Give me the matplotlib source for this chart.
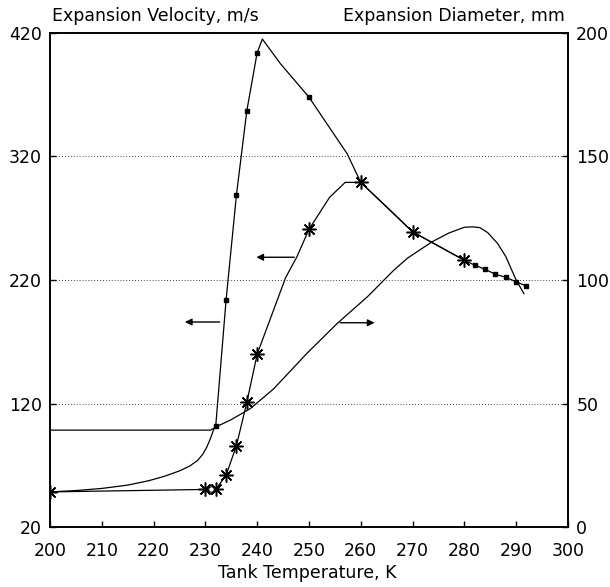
import matplotlib
matplotlib.use("Agg")
import matplotlib.pyplot as plt

plt.rcParams['font.family'] = ['DejaVu Sans']

# ---- data ----
# Velocity curve 1 (dots), left axis, m/s
vel1_line_T = [200, 205, 210, 215, 219, 222, 225, 227, 228.5, 229.5, 230.3, 231, 231.6, 232,
               234, 236, 238, 240, 241, 244.5, 250, 257.4, 260, 265.8, 270, 280,
               282, 284, 286, 288, 290, 292]
vel1_line_V = [48.5, 49.6, 51.3, 54, 57.5, 61, 65.5, 69.5, 74, 79, 85, 92, 99, 102,
               204, 289, 357, 404, 415, 395, 368, 322, 299, 276, 259, 236,
               232, 228.7, 224.6, 222.2, 218.6, 215]
vel1_pts_T = [232, 234, 236, 238, 240, 250, 282, 284, 286, 288, 290, 292]
vel1_pts_V = [102, 204, 289, 357, 404, 368, 232, 228.7, 224.6, 222.2, 218.6, 215]

# Velocity curve 2 (asterisks), left axis, m/s
vel2_line_T = [200, 230, 231, 232, 234, 236, 238, 240, 245.5, 247.7, 250, 254, 257, 260, 270, 280]
vel2_line_V = [48.5, 50.5, 50.5, 50.5, 62, 86, 121, 160, 222, 239, 261, 287, 299, 299, 259, 236]
vel2_pts_T = [200, 230, 232, 234, 236, 238, 240, 250, 260, 270, 280]
vel2_pts_V = [48.5, 50.5, 50.5, 62, 86, 121, 160, 261, 299, 259, 236]

# Expansion diameter (no markers), right axis, mm
diam_T = [200, 231, 232, 235, 238.7, 243.2, 249.6, 255.5, 261.3, 264.5, 266.4, 269,
          273.8, 277, 280, 281.6, 283, 284.5, 286.4, 288, 290, 291.5]
diam_D = [39.25, 39.25, 40.5, 43.5, 48, 56, 70.3, 82.5, 93.25, 100, 104, 108.8,
          115.5, 119, 121.35, 121.5, 121.2, 119.2, 114.85, 109.5, 100, 94.5]

x_ticks = list(range(200, 301, 10))
left_ticks = [20, 120, 220, 320, 420]
right_ticks = [0, 50, 100, 150, 200]

fig = plt.figure(figsize=(6.10, 5.87), dpi=100)
ax = fig.add_axes([0.082, 0.102, 0.849, 0.842])
ax2 = ax.twinx()

lw = 0.9
ax.plot(vel1_line_T, vel1_line_V, color='black', lw=lw)
ax.plot(vel1_pts_T, vel1_pts_V, ls='none', marker='s', ms=3.2, color='black')
ax.plot(vel2_line_T, vel2_line_V, color='black', lw=lw)
ax.plot(vel2_pts_T, vel2_pts_V, ls='none', marker=(8, 2, 0), ms=10, mew=1.1, color='black')
ax.plot([231], [50.5], ls='none', marker='o', ms=4, mfc='white', mec='black', mew=0.8)
ax2.plot(diam_T, diam_D, color='black', lw=lw)

# pointer arrows
arrow_kw = dict(arrowstyle='-|>', color='black', lw=1.0, mutation_scale=10)
ax.annotate('', xy=(225.5, 186), xytext=(233.3, 186), arrowprops=arrow_kw)
ax.annotate('', xy=(239.3, 238.4), xytext=(247.7, 238.4), arrowprops=arrow_kw)
ax.annotate('', xy=(263.2, 185.4), xytext=(255.5, 185.4), arrowprops=arrow_kw)

ax.set_xlim(200, 300)
ax.set_ylim(20, 420)
ax2.set_ylim(0, 200)
ax.set_xticks(x_ticks)
ax.set_yticks(left_ticks)
ax2.set_yticks(right_ticks)

for g in [120, 220, 320]:
    ax.axhline(g, color='black', lw=0.6, ls=(0, (1, 2.5)))

fs = 12.5
ax.tick_params(axis='both', direction='in', length=4, width=1, labelsize=fs, pad=6)
ax2.tick_params(axis='y', direction='in', length=4, width=1, labelsize=fs, pad=6)
ax.tick_params(axis='x', pad=11)
for a in (ax, ax2):
    for s in a.spines.values():
        s.set_linewidth(1.2)

fig.text(0.504, 0.016, 'Tank Temperature, K', fontsize=fs, ha='center', va='baseline')
fig.text(0.085, 0.964, 'Expansion Velocity, m/s', fontsize=fs, ha='left', va='baseline')
fig.text(0.926, 0.964, 'Expansion Diameter, mm', fontsize=fs, ha='right', va='baseline')

fig.savefig('out.png', dpi=100)
